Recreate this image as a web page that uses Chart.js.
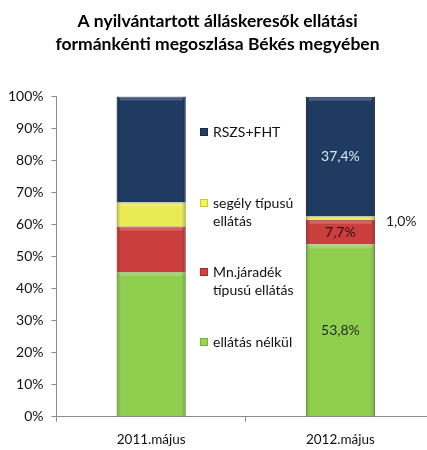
<!DOCTYPE html>
<html>
<head>
<meta charset="utf-8">
<script src="https://cdn.jsdelivr.net/npm/chart.js@4"></script>
<style>
    html, body { margin: 0; padding: 0; background: #fff; overflow: hidden; }
    #wrap { width: 427px; height: 450px; overflow: hidden; }
</style>
</head>
<body>
<div id="wrap"><canvas id="supportChart" width="440" height="458"></canvas></div>
<script>
// Data (percent of registered job seekers)
const categories = ['2011.május', '2012.május'];
const seriesNames = ['ellátás nélkül', 'Mn.járadék típusú ellátás', 'segély típusú ellátás', 'RSZS+FHT'];
const noSupport = [45.1, 53.8];
const benefitType = [14.3, 7.7];
const aidType = [7.5, 1.0];
const rszsFht = [33.1, 37.4];
const yTicks = [0, 10, 20, 30, 40, 50, 60, 70, 80, 90, 100];

// Legend lines as they are wrapped in the picture (top to bottom)
const legendLines = [['RSZS+FHT'], ['segély típusú', 'ellátás'], ['Mn.járadék', 'típusú ellátás'], ['ellátás nélkül']];

const seriesColors = ['#96d653', '#d34141', '#f4f458', '#203d66'];
const seriesBorders = ['#78b03c', '#a83232', '#c8c83c', '#16294a'];
const labelColors = ['#1f2a10', '#2a1010', '#222222', '#dce6f2'];

const FONT = 'Lato, Calibri, "Open Sans", sans-serif';

// Labels with a comma as decimal separator
const fmt = (v) => v.toFixed(1).replace('.', ',') + '%';

// Bevel-like shading over each bar segment
const bevelPlugin = {
    id: 'bevel',
    afterDatasetsDraw(chart) {
        const ctx = chart.ctx;
        chart.data.datasets.forEach((ds, di) => {
            chart.getDatasetMeta(di).data.forEach((bar) => {
                const left = bar.x - bar.width / 2;
                const top = Math.min(bar.y, bar.base);
                const h = Math.abs(bar.base - bar.y);
                if (h < 1) return;
                const g = ctx.createLinearGradient(left, 0, left + bar.width, 0);
                g.addColorStop(0, 'rgba(0,0,0,0.22)');
                g.addColorStop(0.06, 'rgba(0,0,0,0.04)');
                g.addColorStop(0.94, 'rgba(0,0,0,0.04)');
                g.addColorStop(1, 'rgba(0,0,0,0.25)');
                ctx.save();
                ctx.fillStyle = g;
                ctx.fillRect(left, top, bar.width, h);
                // light strip along the top edge
                if (h > 6) {
                    ctx.fillStyle = 'rgba(255,255,255,0.18)';
                    ctx.fillRect(left + 3, top + 1, bar.width - 6, 3);
                }
                ctx.restore();
            });
        });
    }
};

// Value labels, only for the 2012 column
const valueLabelPlugin = {
    id: 'valueLabels',
    afterDatasetsDraw(chart) {
        const ctx = chart.ctx;
        ctx.save();
        ctx.font = '14px ' + FONT;
        ctx.textBaseline = 'middle';
        chart.data.datasets.forEach((ds, di) => {
            const bar = chart.getDatasetMeta(di).data[1];
            const mid = (bar.y + bar.base) / 2;
            if (ds.data[1] < 3) {
                ctx.textAlign = 'left';
                ctx.fillStyle = '#222';
                ctx.fillText(fmt(ds.data[1]), bar.x + bar.width / 2 + 11, mid + 3);
            } else {
                ctx.textAlign = 'center';
                ctx.fillStyle = labelColors[di];
                ctx.fillText(fmt(ds.data[1]), bar.x, mid);
            }
        });
        ctx.restore();
    }
};

// Legend drawn between the two columns
const sideLegendPlugin = {
    id: 'sideLegend',
    afterDraw(chart) {
        const ctx = chart.ctx;
        const x = 200;
        const rows = [132, 203, 272, 342];
        ctx.save();
        ctx.font = '14px ' + FONT;
        ctx.textBaseline = 'middle';
        ctx.textAlign = 'left';
        legendLines.forEach((lines, i) => {
            const si = seriesNames.length - 1 - i;
            const y = rows[i];
            ctx.fillStyle = seriesColors[si];
            ctx.fillRect(x, y - 4, 8, 8);
            ctx.strokeStyle = seriesBorders[si];
            ctx.lineWidth = 1;
            ctx.strokeRect(x + 0.5, y - 3.5, 7, 7);
            ctx.fillStyle = '#111';
            lines.forEach((line, li) => {
                ctx.fillText(line, x + 13, y + li * 18);
            });
        });
        ctx.restore();
    }
};

const seriesData = [noSupport, benefitType, aidType, rszsFht];
const datasets = seriesNames.map((name, i) => ({
    label: name,
    data: seriesData[i],
    backgroundColor: seriesColors[i],
    borderColor: seriesBorders[i],
    borderWidth: 1,
    barPercentage: 0.365,
    categoryPercentage: 1
}));

const ctx = document.getElementById('supportChart').getContext('2d');
const supportChart = new Chart(ctx, {
    type: 'bar',
    data: {
        labels: categories,
        datasets: datasets
    },
    options: {
        responsive: false,
        animation: false,
        layout: {
            padding: { left: 0, right: 5, top: 0, bottom: 0 }
        },
        plugins: {
            legend: { display: false },
            tooltip: { enabled: false },
            title: {
                display: true,
                text: ['A nyilvántartott álláskeresők ellátási', 'formánkénti megoszlása Békés megyében'],
                color: '#000',
                font: { family: FONT, size: 17.5, weight: 'bold', lineHeight: 1.3 },
                padding: { top: 10, bottom: 41 }
            }
        },
        scales: {
            x: {
                stacked: true,
                grid: {
                    drawOnChartArea: false,
                    tickLength: 5,
                    color: '#8c8c8c'
                },
                border: { color: '#8c8c8c' },
                ticks: {
                    color: '#111',
                    padding: 10,
                    font: { family: FONT, size: 13.5 }
                }
            },
            y: {
                stacked: true,
                min: yTicks[0],
                max: yTicks[yTicks.length - 1],
                afterBuildTicks: (axis) => { axis.ticks = yTicks.map(v => ({ value: v })); },
                grid: {
                    drawOnChartArea: false,
                    tickLength: 5,
                    color: '#8c8c8c'
                },
                border: { color: '#8c8c8c' },
                ticks: {
                    color: '#111',
                    padding: 8,
                    font: { family: FONT, size: 14 },
                    callback: (v) => v + '%'
                }
            }
        }
    },
    plugins: [bevelPlugin, valueLabelPlugin, sideLegendPlugin]
});
</script>
</body>
</html>
